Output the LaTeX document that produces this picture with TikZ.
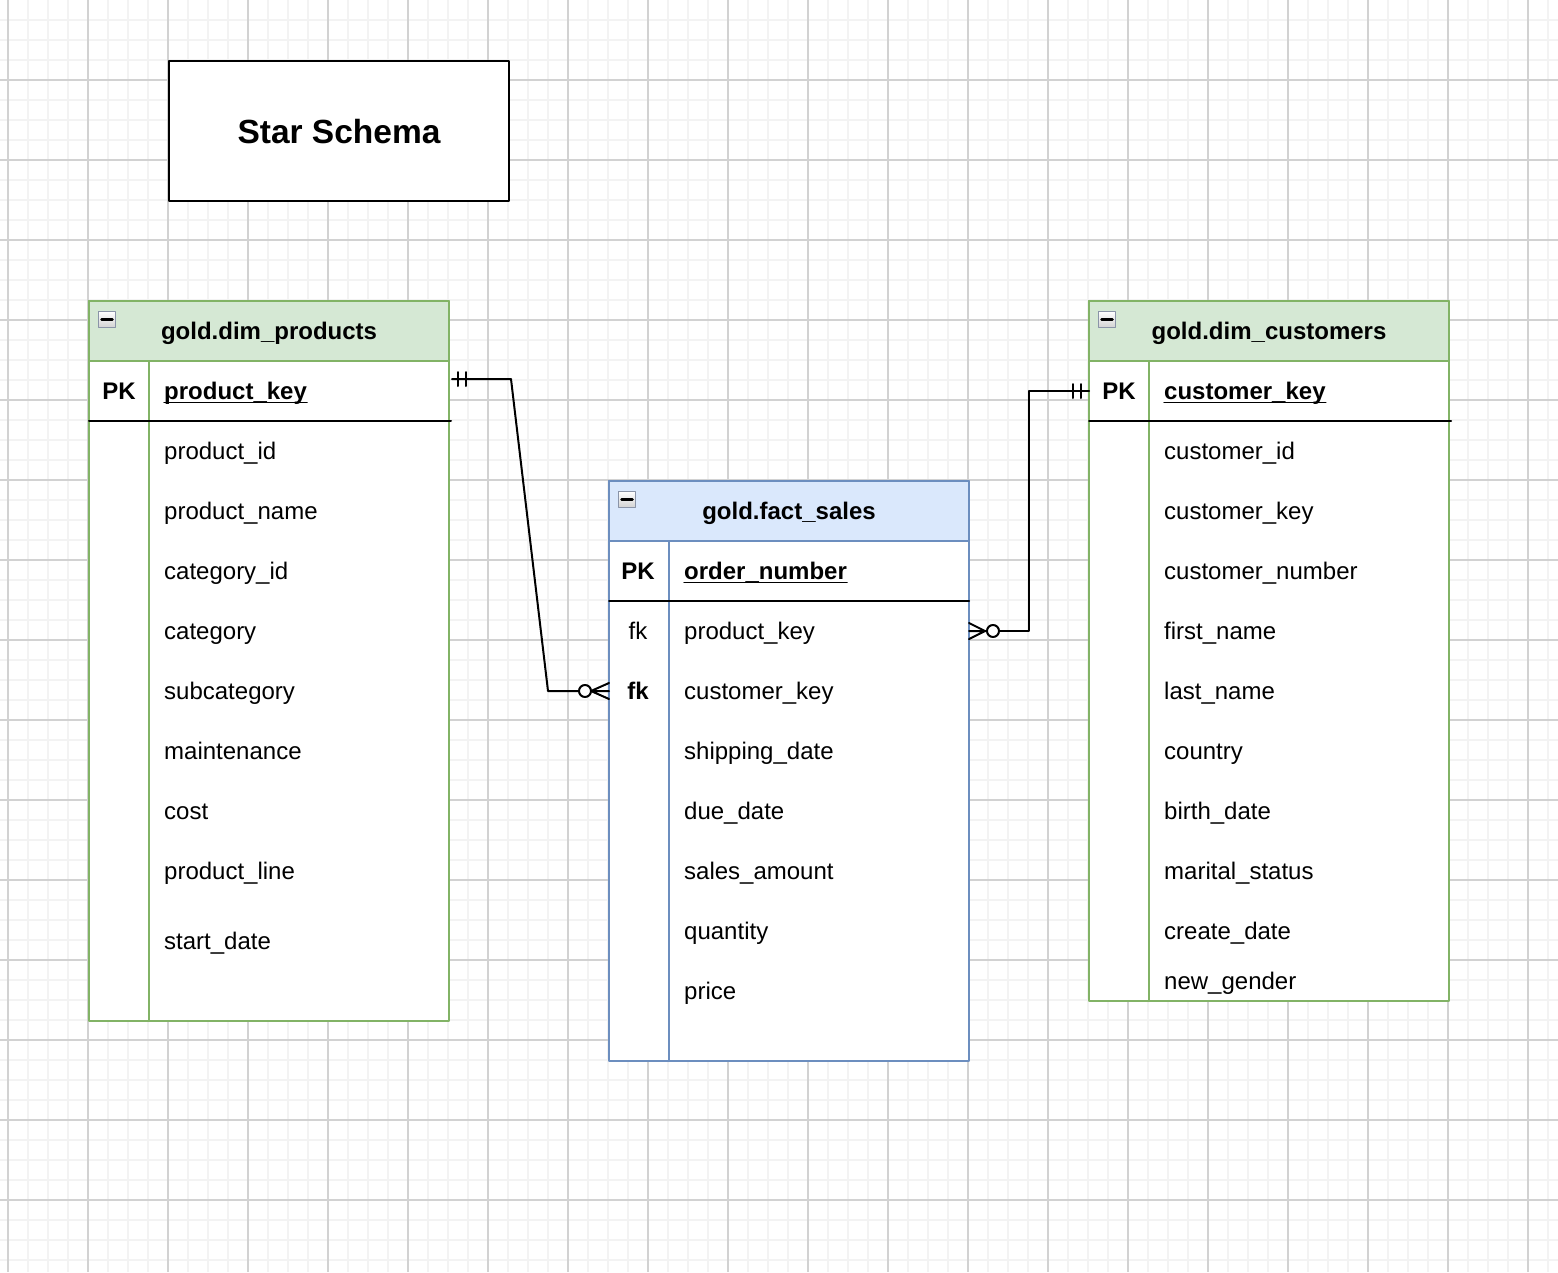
\documentclass[tikz,border=0pt]{standalone}
\usepackage{fontspec}
\setmainfont{Liberation Sans}
\usetikzlibrary{positioning}
\definecolor{gridmin}{HTML}{F3F3F3}
\definecolor{gridmaj}{HTML}{D2D2D2}
\definecolor{dimfill}{HTML}{D5E8D4}
\definecolor{dimline}{HTML}{82B366}
\definecolor{factfill}{HTML}{DAE8FC}
\definecolor{factline}{HTML}{6C8EBF}
\definecolor{iconline}{HTML}{8A94A8}
\tikzset{
  fld/.style={anchor=west,inner sep=0pt,text height=17pt,text depth=0pt,font=\fontsize{24}{28}\selectfont},
  keyfld/.style={fld,anchor=center,font=\fontsize{24}{28}\selectfont\bfseries},
  dimtab/.style={draw=dimline,line width=2pt,minimum width=360pt,anchor=north west,inner sep=0pt,outer sep=0pt},
  facttab/.style={draw=factline,line width=2pt,minimum width=360pt,anchor=north west,inner sep=0pt,outer sep=0pt},
  tabhead/.style={line width=2pt,minimum width=360pt,minimum height=60pt,inner sep=0pt,outer sep=0pt,text height=17pt,text depth=0pt,font=\fontsize{24}{28}\selectfont\bfseries},
  rel/.style={line width=2pt,black},
  icon/.style={draw=iconline,line width=1.5pt,top color=white,bottom color=gray!35,minimum width=17pt,minimum height=16pt,inner sep=0pt}
}
\newcommand{\minusicon}[2]{%
  \node[icon] (#1) at #2 {};
  \draw[line width=2.5pt] ([xshift=-5.5pt]#1.center) -- ([xshift=5.5pt]#1.center);}
\begin{document}
\begin{tikzpicture}[line cap=round,line join=round,x=1pt,y=-1pt]
\useasboundingbox[fill=white] (0,0) rectangle (1558,1272);
% grid
\foreach \x in {8,28,...,1548} \draw[gridmin,line width=2pt,line cap=butt] (\x,0) -- (\x,1272);
\foreach \y in {20,40,...,1260} \draw[gridmin,line width=2pt,line cap=butt] (0,\y) -- (1558,\y);
\foreach \x in {8,88,...,1548} \draw[gridmaj,line width=1.2pt,line cap=butt] (\x,0) -- (\x,1272);
\foreach \y in {80,160,...,1240} \draw[gridmaj,line width=1.2pt,line cap=butt] (0,\y) -- (1558,\y);

% title
\node[draw,line width=2pt,fill=white,minimum width=340pt,minimum height=140pt,inner sep=0pt,
  text height=24pt,text depth=0pt,font=\fontsize{33.5}{38}\selectfont\bfseries] (title) at (339,131) {Star Schema};

% gold.dim_products
\node[dimtab,fill=white,minimum height=720pt] (products) at (89,301) {};
\node[tabhead,draw=dimline,fill=dimfill] (prodhead) at (269,331) {gold.dim\_products};
\draw[dimline,line width=2pt] (149,361) -- (149,1021);
\draw[line width=2pt] (89,421) -- (451,421);
\minusicon{prodicon}{(107,319.5)}
\node[keyfld] (prodpk) at (119,391) {PK};
\node[fld,font=\fontsize{24}{28}\selectfont\bfseries] (prodkey) at (164,391) {product\_key};
\draw[line width=1.5pt] ([yshift=-3pt]prodkey.base west) -- ([yshift=-3pt]prodkey.base east);
\foreach \y/\t/\n in {451/product\_id/pa,511/product\_name/pb,571/category\_id/pc,631/category/pd,
  691/subcategory/pe,751/maintenance/pf,811/cost/pg,871/product\_line/ph,941/start\_date/pi}
  \node[fld] (\n) at (164,\y) {\t};

% gold.fact_sales
\node[facttab,fill=white,minimum height=580pt] (fact) at (609,481) {};
\node[tabhead,draw=factline,fill=factfill] (facthead) at (789,511) {gold.fact\_sales};
\draw[factline,line width=2pt] (669,541) -- (669,1061);
\draw[line width=2pt] (609,601) -- (969,601);
\minusicon{facticon}{(627,499.5)}
\node[keyfld] (factpk) at (638,571) {PK};
\node[fld,font=\fontsize{24}{28}\selectfont\bfseries] (factkey) at (684,571) {order\_number};
\draw[line width=1.5pt] ([yshift=-3pt]factkey.base west) -- ([yshift=-3pt]factkey.base east);
\node[fld,anchor=center] (fkprod) at (638,631) {fk};
\node[keyfld] (fkcust) at (638,691) {fk};
\foreach \y/\t/\n in {631/product\_key/fa,691/customer\_key/fb,751/shipping\_date/fc,811/due\_date/fd,
  871/sales\_amount/fe,931/quantity/ff,991/price/fg}
  \node[fld] (\n) at (684,\y) {\t};

% gold.dim_customers
\node[dimtab,fill=white,minimum height=700pt] (customers) at (1089,301) {};
\node[tabhead,draw=dimline,fill=dimfill] (custhead) at (1269,331) {gold.dim\_customers};
\draw[dimline,line width=2pt] (1149,361) -- (1149,1001);
\draw[line width=2pt] (1089,421) -- (1451,421);
\minusicon{custicon}{(1107,319.5)}
\node[keyfld] (custpk) at (1119,391) {PK};
\node[fld,font=\fontsize{24}{28}\selectfont\bfseries] (custkey) at (1164,391) {customer\_key};
\draw[line width=1.5pt] ([yshift=-3pt]custkey.base west) -- ([yshift=-3pt]custkey.base east);
\foreach \y/\t/\n in {451/customer\_id/ca,511/customer\_key/cb,571/customer\_number/cc,631/first\_name/cd,
  691/last\_name/ce,751/country/cf,811/birth\_date/cg,871/marital\_status/ch,931/create\_date/ci,981/new\_gender/cj}
  \node[fld] (\n) at (1164,\y) {\t};

% relations
\coordinate (prodout) at (452,379);
\coordinate (factin) at (fact.west |- fb);
\draw[rel] (prodout) -- (511,379) -- (548,691) -- ([xshift=-30pt]factin);
\draw[rel] (458,372) -- (458,386) (466,372) -- (466,386);
\draw[rel] ([xshift=-18pt]factin) -- ([yshift=8pt]factin) ([xshift=-18pt]factin) -- ([yshift=-8pt]factin)
  ([xshift=-18pt]factin) -- (factin);
\draw[rel,fill=white] ([xshift=-24pt]factin) circle (6pt);

\coordinate (factout) at (fact.east |- fa);
\coordinate (custin) at (customers.west |- custkey.west);
\draw[rel] ([xshift=30pt]factout) -- (1029,631) -- (1029,391) -- (custin);
\draw[rel] ([yshift=8pt]factout) -- ([xshift=16pt]factout) -- ([yshift=-8pt]factout) (factout) -- ([xshift=18pt]factout);
\draw[rel,fill=white] ([xshift=24pt]factout) circle (6pt);
\draw[rel] (1073,384) -- (1073,398) (1081,384) -- (1081,398);
\end{tikzpicture}
\end{document}
